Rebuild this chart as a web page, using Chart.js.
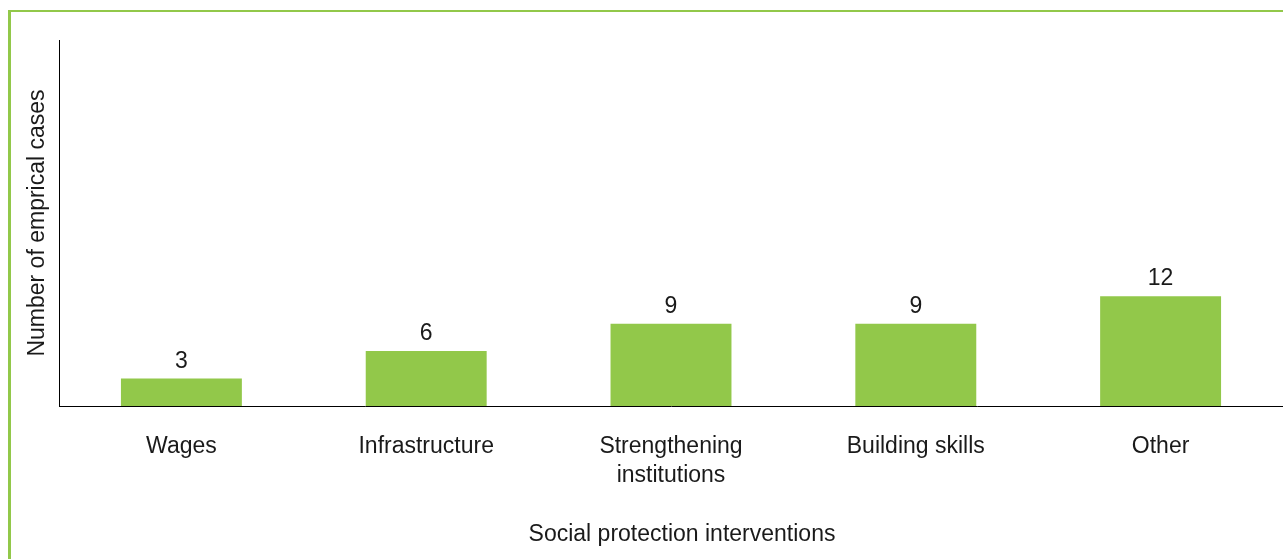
<!DOCTYPE html>
<html>
<head>
<meta charset="utf-8">
<script src="https://cdn.jsdelivr.net/npm/chart.js@4.4.1/dist/chart.umd.min.js"></script>
<style>
  html, body { margin: 0; padding: 0; background: #ffffff; overflow: hidden; }
  #frame {
    position: absolute; left: 8px; top: 10px; width: 1400px; height: 700px;
    border-left: 3px solid #92c84a; border-top: 2px solid #92c84a;
  }
  #wrap { position: absolute; left: 0; top: 0; width: 1283px; height: 559px; }
</style>
</head>
<body>
<div id="frame"></div>
<div id="wrap"><canvas id="chart" width="1283" height="559"></canvas></div>
<script>
// Interventions and the number of empirical cases found for each
const categories = ['Wages', 'Infrastructure', ['Strengthening', 'institutions'], 'Building skills', 'Other'];
const caseCounts = [3, 6, 9, 9, 12];
const yAxisTitle = 'Number of emprical cases';
const xAxisTitle = 'Social protection interventions';

const FONT = 'Liberation Sans, Arial, Helvetica, sans-serif';
const TEXT = '#1a1a1a';
const BAR = '#92c84a';

// Writes each bar's value just above it, and the category axis caption below the labels
const annotations = {
  id: 'annotations',
  afterDatasetsDraw(chart) {
    const ctx = chart.ctx;
    const area = chart.chartArea;
    ctx.save();
    ctx.font = '23px ' + FONT;
    ctx.fillStyle = TEXT;
    ctx.textAlign = 'center';
    ctx.textBaseline = 'alphabetic';
    chart.getDatasetMeta(0).data.forEach((bar, i) => {
      ctx.fillText(String(chart.data.datasets[0].data[i]), bar.x, bar.y - 11);
    });
    ctx.fillText(xAxisTitle, (area.left + area.right) / 2 + 11, 541);
    ctx.restore();
  }
};

new Chart(document.getElementById('chart'), {
  type: 'bar',
  data: {
    labels: categories,
    datasets: [{
      data: caseCounts,
      backgroundColor: BAR,
      borderWidth: 0,
      categoryPercentage: 1,
      barPercentage: 0.494
    }]
  },
  options: {
    responsive: false,
    animation: false,
    events: [],
    layout: { padding: { top: 40, left: 0, right: 0, bottom: 0 } },
    plugins: { legend: { display: false }, tooltip: { enabled: false } },
    scales: {
      x: {
        grid: { display: false },
        border: { display: true, color: '#000', width: 1 },
        ticks: {
          color: TEXT,
          font: { family: FONT, size: 23, lineHeight: 1.27 },
          padding: 18,
          maxRotation: 0,
          autoSkip: false
        },
        title: { display: false },
        afterFit(scale) { scale.height = 153; }
      },
      y: {
        min: 0,
        max: 40,
        grid: { display: false },
        border: { display: true, color: '#000', width: 1 },
        ticks: { display: false },
        title: {
          display: true,
          text: yAxisTitle,
          color: TEXT,
          font: { family: FONT, size: 23 },
          padding: { top: 24, bottom: 0 }
        },
        afterFit(scale) { scale.width = 59; }
      }
    }
  },
  plugins: [annotations]
});
</script>
</body>
</html>
